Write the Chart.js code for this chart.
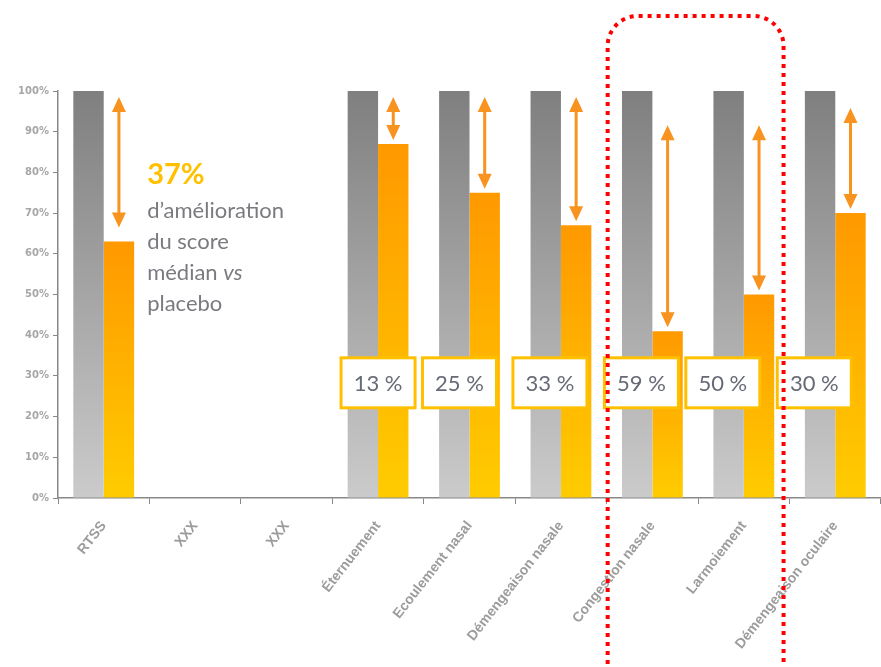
<!DOCTYPE html>
<html>
<head>
<meta charset="utf-8">
<script src="https://cdn.jsdelivr.net/npm/chart.js@4.4.0/dist/chart.umd.min.js"></script>
<style>
  html, body { margin: 0; padding: 0; background: #fff; }
  #wrap { width: 881px; height: 667px; }
</style>
</head>
<body>
<div id="wrap"><canvas id="symptomScores"></canvas></div>
<script>
var categories = ['RTSS', 'XXX', 'XXX', 'Éternuement', 'Ecoulement nasal', 'Démengeaison nasale',
                  'Congestion nasale', 'Larmoiement', 'Démengeaison oculaire'];
var placebo = [100, null, null, 100, 100, 100, 100, 100, 100];
var treated = [63, null, null, 87, 75, 67, 41, 50, 70];
var improvement = ['', '', '', '13 %', '25 %', '33 %', '59 %', '50 %', '30 %'];
var yTicks = [0, 10, 20, 30, 40, 50, 60, 70, 80, 90, 100];

// where each arrow starts (in % of the y scale) and how far each label box is nudged
var arrowFrom = [98.5, null, null, 98.5, 98.5, 98.5, 91.6, 91.6, 95.8];
var boxShift = [0, 0, 0, 0, -10, -11, -11, -21, -21];

function placeboFill(c) {
  var chart = c.chart, area = chart.chartArea;
  if (!area) return '#999';
  var g = chart.ctx.createLinearGradient(0, area.top, 0, area.bottom);
  g.addColorStop(0, '#7f7f7f');
  g.addColorStop(1, '#cbcbcb');
  return g;
}

function treatedFill(c) {
  var chart = c.chart;
  if (!chart.chartArea || c.type !== 'data' || c.raw == null) return '#ff9900';
  var y = chart.scales.y;
  var top = y.getPixelForValue(c.raw), base = y.getPixelForValue(0);
  var g = chart.ctx.createLinearGradient(0, top, 0, base);
  g.addColorStop(0, '#ff9900');
  g.addColorStop(1, '#ffcc00');
  return g;
}

function arrow(ctx, x, y1, y2) {
  var hw = 7, hl = 15;
  ctx.strokeStyle = '#f7931e';
  ctx.fillStyle = '#f7931e';
  ctx.lineWidth = 3;
  ctx.beginPath();
  ctx.moveTo(x, y1 + hl - 2);
  ctx.lineTo(x, y2 - hl + 2);
  ctx.stroke();
  ctx.beginPath();
  ctx.moveTo(x, y1); ctx.lineTo(x - hw, y1 + hl); ctx.lineTo(x + hw, y1 + hl); ctx.closePath();
  ctx.fill();
  ctx.beginPath();
  ctx.moveTo(x, y2); ctx.lineTo(x - hw, y2 - hl); ctx.lineTo(x + hw, y2 - hl); ctx.closePath();
  ctx.fill();
}

var annotations = {
  id: 'annotations',
  afterDraw: function (chart) {
    var ctx = chart.ctx, x = chart.scales.x, y = chart.scales.y;
    var bars = chart.getDatasetMeta(1).data;
    ctx.save();

    // double arrows
    for (var i = 0; i < treated.length; i++) {
      if (treated[i] == null) continue;
      var b = bars[i];
      var gap = i === 0 ? 14 : 4;
      arrow(ctx, b.x, y.getPixelForValue(arrowFrom[i]), b.y - gap);
    }

    // improvement boxes
    ctx.font = '22px Lato';
    ctx.textAlign = 'center';
    ctx.textBaseline = 'middle';
    var cy = y.getPixelForValue(28.3);
    for (var j = 0; j < improvement.length; j++) {
      if (!improvement[j]) continue;
      var cx = x.getPixelForValue(j) + boxShift[j];
      ctx.fillStyle = '#fff';
      ctx.fillRect(cx - 37, cy - 25, 74, 50);
      ctx.strokeStyle = '#ffc000';
      ctx.lineWidth = 3;
      ctx.strokeRect(cx - 37, cy - 25, 74, 50);
      ctx.fillStyle = '#666a75';
      ctx.fillText(improvement[j], cx, cy + 1);
    }

    // RTSS note
    var tx = bars[0].x + bars[0].width / 2 + 13;
    ctx.textAlign = 'left';
    ctx.textBaseline = 'alphabetic';
    ctx.fillStyle = '#ffc000';
    ctx.font = 'bold 29px Lato';
    ctx.fillText('37%', tx, 184);
    ctx.fillStyle = '#7a7a80';
    ctx.font = '22px Lato';
    ctx.fillText('d\u2019amélioration', tx, 218);
    ctx.fillText('du score', tx, 249);
    ctx.fillText('médian ', tx, 280);
    var w = ctx.measureText('médian ').width;
    ctx.font = 'italic 22px Lato';
    ctx.fillText('vs', tx + w, 280);
    ctx.font = '22px Lato';
    ctx.fillText('placebo', tx, 311);

    // red dotted frame
    var left = (x.getPixelForValue(5) + x.getPixelForValue(6)) / 2 + 1;
    var right = (x.getPixelForValue(7) + x.getPixelForValue(8)) / 2 - 6;
    var top = 16, bottom = 700, r = 30;
    ctx.strokeStyle = '#ff0000';
    ctx.lineWidth = 4;
    ctx.setLineDash([4, 5]);
    ctx.beginPath();
    ctx.moveTo(left, bottom);
    ctx.lineTo(left, top + r);
    ctx.arcTo(left, top, left + r, top, r);
    ctx.lineTo(right - r, top);
    ctx.arcTo(right, top, right, top + r, r);
    ctx.lineTo(right, bottom);
    ctx.stroke();
    ctx.restore();
  }
};

var ctx = document.getElementById('symptomScores').getContext('2d');
var myChart = new Chart(ctx, {
  type: 'bar',
  data: {
    labels: categories,
    datasets: [{
      label: 'Placebo',
      data: placebo,
      backgroundColor: placeboFill,
      categoryPercentage: 0.665,
      barPercentage: 1.0
    }, {
      label: 'Traitement',
      data: treated,
      backgroundColor: treatedFill,
      categoryPercentage: 0.665,
      barPercentage: 1.0
    }]
  },
  options: {
    responsive: true,
    maintainAspectRatio: false,
    animation: false,
    layout: { padding: { top: 91, right: 0, left: 0, bottom: 0 } },
    plugins: {
      legend: { display: false },
      tooltip: { enabled: false }
    },
    scales: {
      x: {
        grid: { drawOnChartArea: false, color: '#888', tickLength: 6, offset: true },
        border: { color: '#888', width: 1.5 },
        ticks: {
          autoSkip: false,
          minRotation: 52,
          maxRotation: 52,
          padding: 14,
          color: '#9c9c9c',
          font: { family: 'Liberation Sans', size: 14, weight: 'bold' }
        },
        afterFit: function (scale) { scale.height = 169; }
      },
      y: {
        min: 0,
        max: 100,
        afterBuildTicks: function (scale) {
          scale.ticks = yTicks.map(function (v) { return { value: v }; });
        },
        grid: { drawOnChartArea: false, color: '#888', tickLength: 5 },
        border: { color: '#888', width: 1.5 },
        ticks: {
          padding: 4,
          color: '#a6a6a6',
          font: { family: 'DejaVu Sans', size: 10, weight: 'bold' },
          callback: function (v) { return v + '%'; }
        },
        afterFit: function (scale) { scale.width = 58; }
      }
    }
  },
  plugins: [annotations]
});
</script>
</body>
</html>
